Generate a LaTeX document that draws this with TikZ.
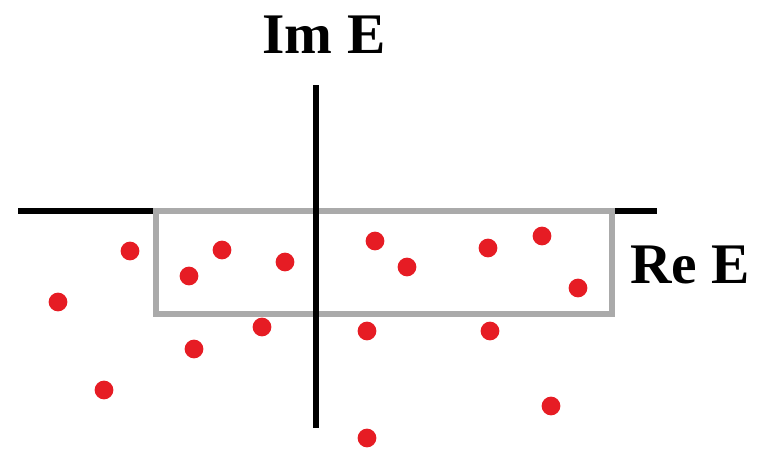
\documentclass[tikz,border=0pt]{standalone}
\usepackage{fontspec}
\setmainfont{Liberation Serif}
\usetikzlibrary{positioning}
\definecolor{dotred}{RGB}{230,28,36}
\definecolor{boxgray}{RGB}{170,170,170}

\begin{document}
\begin{tikzpicture}[
    x=0.03cm, y=-0.03cm,
    axis/.style={line width=5pt, black},
    window/.style={draw=boxgray, line width=5pt},
    pole/.style={circle, fill=dotred, inner sep=0pt, minimum size=16pt},
    axlabel/.style={font=\fontsize{49}{50}\selectfont\bfseries, inner sep=0pt, anchor=base}
]
\useasboundingbox (0,0) rectangle (763,475);

% Axes
\coordinate (reL) at (18,211);
\coordinate (reR) at (657,211);
\coordinate (imT) at (316,85);
\coordinate (imB) at (316,428);
\draw[axis] (reL) -- (reR);

% Window
\draw[window] (156,211) rectangle (612,314);
\draw[axis] (imT) -- (imB);

% Labels
\node[axlabel] (im) at (324,53) {Im E};
\node[axlabel] (re) at (690,283) {Re E};

% Poles
\foreach \px/\py [count=\i] in {130/251, 58/302, 104/390, 189/276, 222/250,
    194/349, 262/327, 285/262, 375/241, 407/267, 367/331, 488/248,
    542/236, 578/288, 490/331, 551/406, 367/438}
  \node[pole] (p\i) at (\px,\py) {};
\end{tikzpicture}
\end{document}
